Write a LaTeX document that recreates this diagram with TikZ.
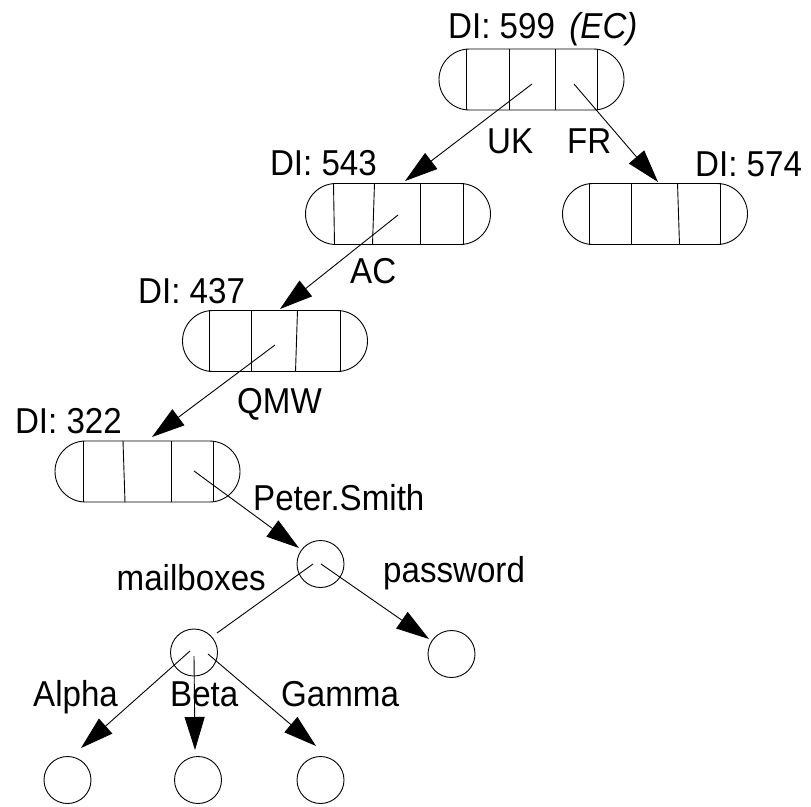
\documentclass[tikz,border=0pt]{standalone}
\usepackage{fontspec}
\setmainfont{Liberation Sans}[FakeStretch=0.92]
\usetikzlibrary{arrows.meta,shapes.misc,calc}
\begin{document}
\begin{tikzpicture}[x=1pt,y=1pt,
  every node/.style={font=\fontsize{36}{42}\selectfont},
  pill/.style={rounded rectangle,draw,line width=0.9pt,minimum width=185pt,minimum height=61pt,inner sep=0pt},
  leaf/.style={circle,draw,line width=0.9pt,minimum size=47pt,inner sep=0pt},
  lbl/.style={inner sep=0pt},
  conn/.style={line width=0.9pt},
  arr/.style={conn,-{Triangle[length=33pt,width=20pt]}},
  divline/.style={line width=0.9pt}
]
\path[use as bounding box] (0,0) rectangle (811,-806);

% pills
\node[pill] (n599) at (531.5,-79.5) {};
\node[pill] (n543) at (398,-214) {};
\node[pill] (n574) at (655,-214) {};
\node[pill] (n437) at (275,-341) {};
\node[pill] (n322) at (147.5,-471.5) {};

% dividers (offset from left edge: top/bottom)
\foreach \a/\b in {27/27,70/70,116/116,158/158}
  \draw[divline] ($(n599.north)+(\a-92.5,0)$) -- ($(n599.south)+(\b-92.5,0)$);
\foreach \a/\b in {28/29,69/67,115/115,158/158}
  \draw[divline] ($(n543.north)+(\a-92.5,0)$) -- ($(n543.south)+(\b-92.5,0)$);
\foreach \a/\b in {27/27,69/69,115/117,158/158}
  \draw[divline] ($(n574.north)+(\a-92.5,0)$) -- ($(n574.south)+(\b-92.5,0)$);
\foreach \a/\b in {27/27,69/69,115/113,158/158}
  \draw[divline] ($(n437.north)+(\a-92.5,0)$) -- ($(n437.south)+(\b-92.5,0)$);
\foreach \a/\b in {28/28,68/70,116/116,158/158}
  \draw[divline] ($(n322.north)+(\a-92.5,0)$) -- ($(n322.south)+(\b-92.5,0)$);

% circles
\node[leaf] (peter) at (320.5,-564) {};
\node[leaf] (pass) at (451.5,-654) {};
\node[leaf] (mbox) at (194,-652.5) {};
\node[leaf] (alpha) at (67.5,-780) {};
\node[leaf] (beta) at (198,-780) {};
\node[leaf] (gamma) at (320.5,-780) {};

% labels
\node[lbl,anchor=base west] (t599) at (448,-38) {DI: 599\hspace{0.4em}\textit{(EC)}};
\node[lbl,anchor=base east] (t543) at (377,-175) {DI: 543};
\node[lbl,anchor=base west] (t574) at (695,-176) {DI: 574};
\node[lbl,anchor=base west] (t437) at (138,-303) {DI: 437};
\node[lbl,anchor=base east] (t322) at (122,-433) {DI: 322};
\node[lbl,anchor=base west] (luk) at (487,-153) {UK};
\node[lbl,anchor=base west] (lfr) at (567,-153) {FR};
\node[lbl,anchor=base west] (lac) at (350,-283) {AC};
\node[lbl,anchor=base west] (lqmw) at (237,-413) {QMW};
\node[lbl,anchor=base west] (lpeter) at (253,-510) {Peter.Smith};
\node[lbl,anchor=base east] (lmbox) at (266,-590) {mailboxes};
\node[lbl,anchor=base west] (lpass) at (383,-582) {password};
\node[lbl,anchor=base west] (lalpha) at (33,-706) {Alpha};
\node[lbl,anchor=base west] (lbeta) at (170,-706) {Beta};
\node[lbl,anchor=base west] (lgamma) at (281,-706) {Gamma};

% connector end points
\coordinate (s599a) at (532,-84);
\coordinate (s599b) at (574,-84);
\coordinate (e543) at (405,-181);
\coordinate (e574) at (658,-182);
\coordinate (s543) at (398,-215);
\coordinate (e437) at (280,-309);
\coordinate (s437) at (275,-345);
\coordinate (e322) at (152,-437);
\coordinate (s322) at (194,-471);
\coordinate (epeter) at (299,-548);
\coordinate (spass) at (321,-564);
\coordinate (epass) at (429,-639);
\coordinate (smbox) at (313,-564);
\coordinate (embox) at (217,-633);
\coordinate (salpha) at (190,-651);
\coordinate (ealpha) at (81,-748);
\coordinate (sbeta) at (194,-656);
\coordinate (ebeta) at (195,-750);
\coordinate (sgamma) at (208,-654);
\coordinate (egamma) at (316,-746);

% connectors
\draw[arr] (s599a) -- (e543);
\draw[arr] (s599b) -- (e574);
\draw[arr] (s543) -- (e437);
\draw[arr] (s437) -- (e322);
\draw[arr] (s322) -- (epeter);
\draw[arr] (spass) -- (epass);
\draw[conn] (smbox) -- (embox);
\draw[arr] (salpha) -- (ealpha);
\draw[arr] (sbeta) -- (ebeta);
\draw[arr] (sgamma) -- (egamma);
\end{tikzpicture}
\end{document}
